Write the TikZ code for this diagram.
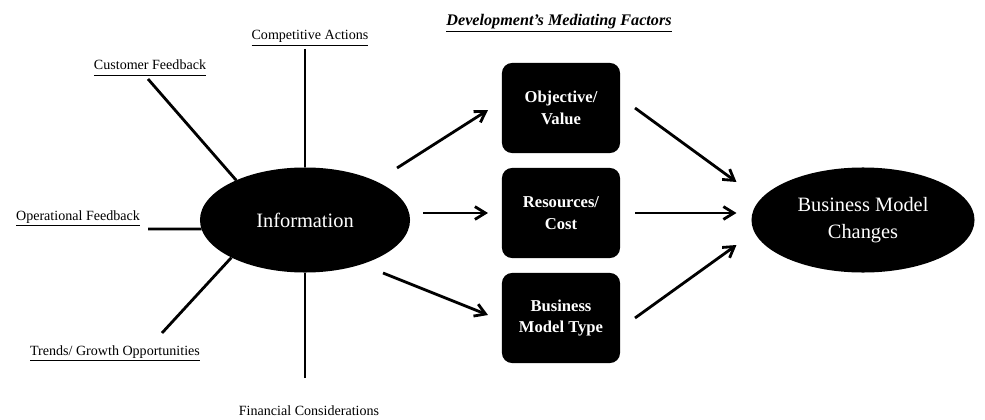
\documentclass[tikz,border=0pt]{standalone}
\usepackage{fontspec}
\setmainfont{Liberation Serif}
\usetikzlibrary{shapes.geometric,arrows.meta}

% underline a bit heavier than \underline
\newcommand{\ulined}[1]{\setbox0\hbox{#1}\rlap{\rule[-4.2pt]{\wd0}{0.9pt}}\box0}

\begin{document}
\begin{tikzpicture}[x=0.025cm, y=-0.025cm,
  oval/.style={ellipse, fill=black, text=white, inner sep=0pt, outer sep=0pt, minimum height=2.625cm, align=center},
  factor/.style={rectangle, rounded corners=0.25cm, fill=black, text=white, align=center,
    font=\fontsize{11.8}{15.5}\selectfont\bfseries, minimum width=2.95cm, minimum height=2.25cm, outer sep=0pt},
  source/.style={anchor=base, font=\fontsize{10}{12}\selectfont, inner sep=0pt},
  spoke/.style={line width=2pt},
  flow/.style={line width=2pt, -{Straight Barb[length=2.6mm,width=3.2mm]}}]

\useasboundingbox (0,0) rectangle (985,420);

% Title over the middle column
\node[anchor=base, font=\fontsize{11.5}{14}\selectfont\bfseries\itshape] (title) at (559,26) {\ulined{Development's Mediating Factors}};

% Information and its sources
\node[oval, minimum width=5.25cm, font=\fontsize{14.5}{17}\selectfont] (info) at (305,220) {Information};

\node[source] (ca) at (310,40) {\ulined{Competitive Actions}};
\node[source] (cf) at (150,70) {\ulined{Customer Feedback}};
\node[source] (of) at (78,220) {\ulined{Operational Feedback}};
\node[source] (tg) at (115,355) {\ulined{Trends/ Growth Opportunities}};
\node[source] (fc) at (309,415) {Financial Considerations};

\coordinate (ca-end) at (305,49);
\coordinate (cf-end) at (148,79);
\coordinate (of-end) at (148,229);
\coordinate (tg-end) at (162,333);
\coordinate (fc-end) at (305,378);

\draw[spoke] (ca-end) -- (info.north);
\draw[spoke] (cf-end) -- (info.150);
\draw[spoke] (of-end) -- (info.185);
\draw[spoke] (tg-end) -- (info.207);
\draw[spoke] (fc-end) -- (info.south);

% Mediating factors
\node[factor] (obj) at (561,108) {Objective/\\Value};
\node[factor] (res) at (561,213) {Resources/\\Cost};
\node[factor] (bmt) at (561,318) {Business\\Model Type};

% Outcome
\node[oval, minimum width=5.575cm, font=\fontsize{14.5}{19}\selectfont] (bcm) at (863,220) {Business Model\\Changes};

% Arrows
\draw[flow] ([shift={(-13,-52)}]info.east) -- ([shift={(-14,2)}]obj.west);
\draw[flow] ([shift={(13,-7)}]info.east) -- ([shift={(-14,0)}]res.west);
\draw[flow] ([shift={(-27,53)}]info.east) -- ([shift={(-14,-3)}]bmt.west);

\draw[flow] ([shift={(15,0)}]obj.east) -- ([shift={(-15,-38)}]bcm.west);
\draw[flow] ([shift={(15,0)}]res.east) -- ([shift={(-15,-7)}]bcm.west);
\draw[flow] ([shift={(15,0)}]bmt.east) -- ([shift={(-15,25)}]bcm.west);
\end{tikzpicture}
\end{document}
